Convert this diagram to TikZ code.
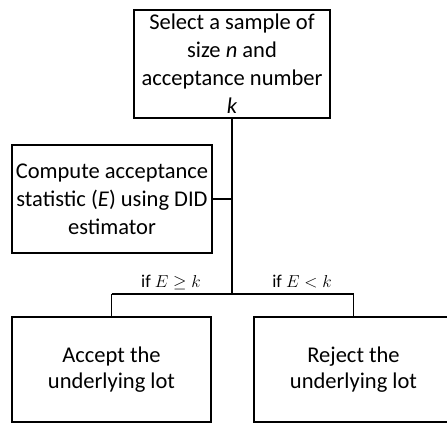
\documentclass[tikz,border=0pt]{standalone}
\usepackage{fontspec}
\setmainfont{Carlito}
\begin{document}
\begin{tikzpicture}[x=1pt,y=1pt,
  box/.style={draw, line width=1.8pt, inner sep=0pt, align=center, font=\fontsize{22.5}{28}\selectfont},
  lowbox/.style={box, font=\fontsize{22.5}{25.5}\selectfont, minimum width=199, minimum height=105},
  lbl/.style={font=\fontsize{18}{20}\selectfont, inner sep=0pt},
  conn/.style={line width=1.8pt}]
\useasboundingbox (0,0) rectangle (447,-424);
\clip (0,0) rectangle (447,-424);
\node[box, minimum width=196, minimum height=108] (top) at (232,-64)
  {Select a sample of\\size \textit{n} and\\acceptance number\\\textit{k}};
\node[box, minimum width=200, minimum height=108] (mid) at (112,-199)
  {Compute acceptance\\statistic (\textit{E}) using DID\\estimator};
\node[lowbox] (acc) at (111.5,-369.5) {Accept the\\underlying lot};
\node[lowbox] (rej) at (353.5,-369.5) {Reject the\\underlying lot};
\coordinate (j) at (232,-294);
\coordinate (jl) at (acc.north |- j);
\coordinate (jr) at (rej.north |- j);
\draw[conn] (top.south) -- (j);
\draw[conn] (mid.east) -- (mid.east -| j);
\draw[conn] (jl) -- (jr);
\draw[conn] (jl) -- (acc.north);
\draw[conn] (jr) -- (rej.north);
\node[lbl] (lge) at (171,-282) {if $E\geq k$};
\node[lbl] (llt) at (302,-282) {if $E<k$};
\end{tikzpicture}
\end{document}
